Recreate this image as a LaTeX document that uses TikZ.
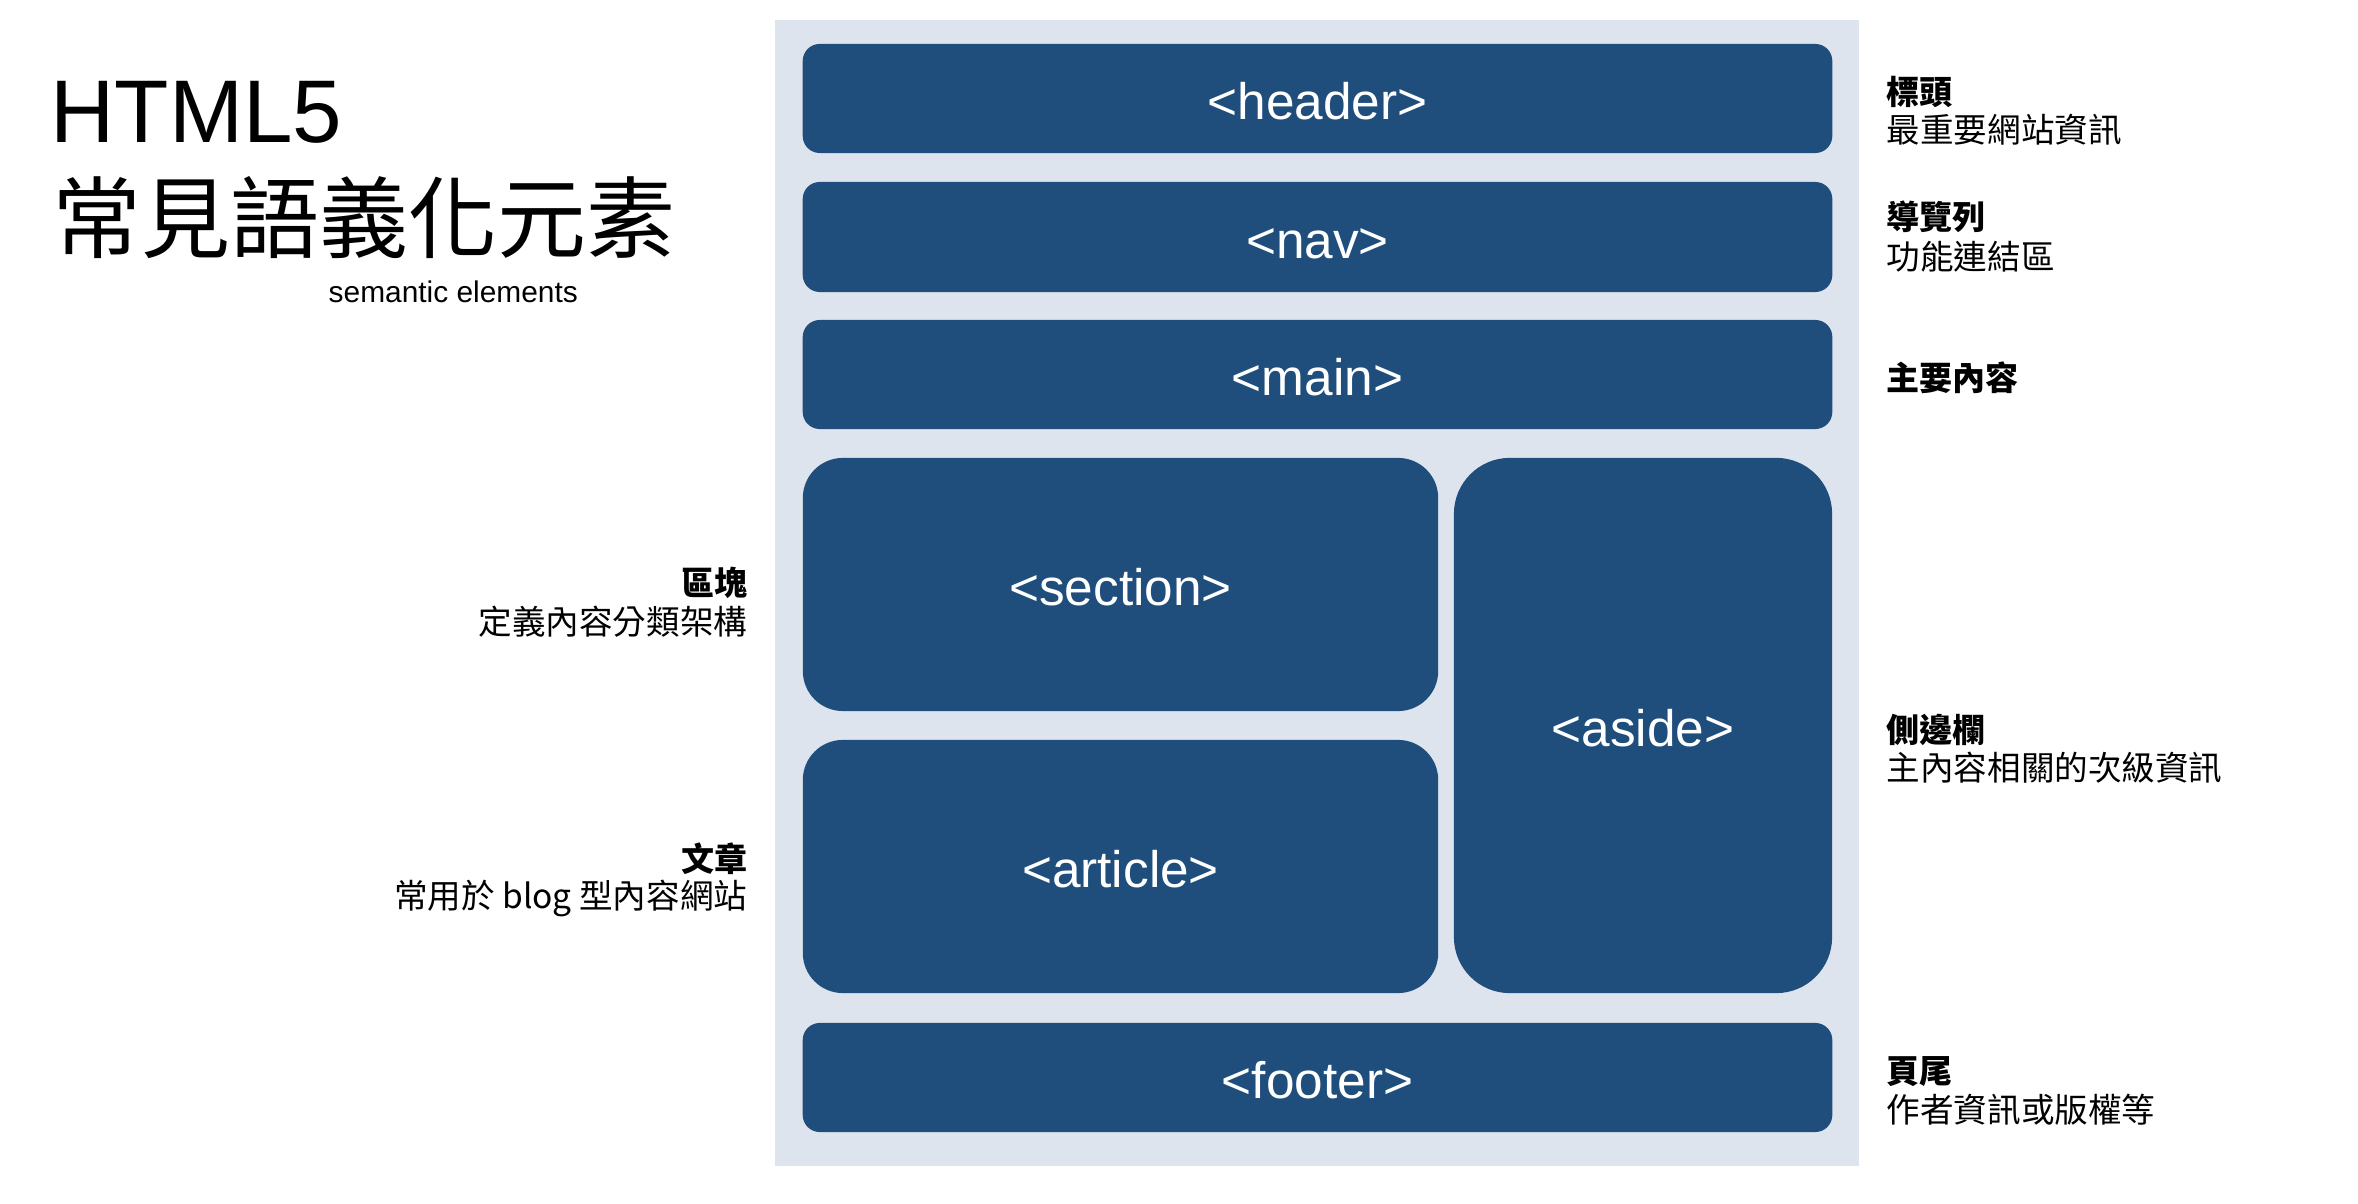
\documentclass[tikz,border=0pt]{standalone}
\usepackage{fontspec}
\setmainfont{Liberation Sans}
\newfontfamily\cjkfont{Noto Sans CJK TC}
\usepackage{xcolor}
\definecolor{boxBlue}{HTML}{1F4E7D}
\definecolor{panelGray}{HTML}{DEE4EE}
\usepackage{tikz}
\usetikzlibrary{positioning}

\begin{document}
\begin{tikzpicture}[x=0.01cm,y=-0.01cm,
 tagBox/.style={fill=boxBlue,rounded corners=1.7mm,text=white,inner sep=0pt,
 text height=12.2pt,text depth=0pt,
 minimum width=10.29cm,minimum height=1.09cm,font=\fontsize{14.6}{17}\selectfont},
 blockBox/.style={tagBox,rounded corners=4mm,minimum width=6.35cm,minimum height=2.53cm},
 sideBox/.style={tagBox,rounded corners=5.6mm,minimum width=3.78cm,minimum height=5.35cm},
 tagName/.style={inner sep=0pt,font=\cjkfont\bfseries\fontsize{9.4}{11}\selectfont},
 tagNote/.style={inner sep=0pt,font=\cjkfont\fontsize{9.55}{11}\selectfont}]
 \useasboundingbox (0,0) rectangle (2358,1204);
 \fill[panelGray] (775,20) rectangle (1859,1166);
 \node[anchor=base west,inner sep=0pt,font=\fontsize{25.3}{30}\selectfont] (title) at (50,143) {HTML5};
 \node[anchor=base west,inner sep=0pt,font=\cjkfont\fontsize{25.3}{30}\selectfont] (titleZh) at (52,252) {常見語義化元素};
 \node[anchor=base west,inner sep=0pt,font=\fontsize{8.5}{10}\selectfont] (subtitle) at (328,303) {semantic elements};
 \node[tagBox] (header) at (1317.5,98.5) {<header>};
 \node[tagBox,minimum height=1.10cm] (nav) at (1317.5,237) {<nav>};
 \node[tagBox] (main) at (1317.5,374.5) {<main>};
 \node[blockBox] (section) at (1120.5,584.5) {<section>};
 \node[blockBox] (article) at (1120.5,866.5) {<article>};
 \node[sideBox] (aside) at (1643,725.5) {<aside>};
 \node[tagBox] (footer) at (1317.5,1077.5) {<footer>};
 \node[tagName,anchor=base west] (headerName) at (1886,105) {標頭};
 \node[tagNote,anchor=base west] (headerNote) at (1886,143) {最重要網站資訊};
 \node[tagName,anchor=base west] (navName) at (1886,230) {導覽列};
 \node[tagNote,anchor=base west] (navNote) at (1886,270) {功能連結區};
 \node[tagName,anchor=base west] (mainName) at (1886,391) {主要內容};
 \node[tagName,anchor=base west] (asideName) at (1886,743) {側邊欄};
 \node[tagNote,anchor=base west] (asideNote) at (1886,781) {主內容相關的次級資訊};
 \node[tagName,anchor=base west] (footerName) at (1886,1083) {頁尾};
 \node[tagNote,anchor=base west] (footerNote) at (1886,1122) {作者資訊或版權等};
 \node[tagName,anchor=base east] (sectionName) at (748,596) {區塊};
 \node[tagNote,anchor=base east] (sectionNote) at (748,635) {定義內容分類架構};
 \node[tagName,anchor=base east] (articleName) at (748,871) {文章};
 \node[tagNote,anchor=base east] (articleNote) at (748,909) {常用於 blog 型內容網站};
\end{tikzpicture}
\end{document}
